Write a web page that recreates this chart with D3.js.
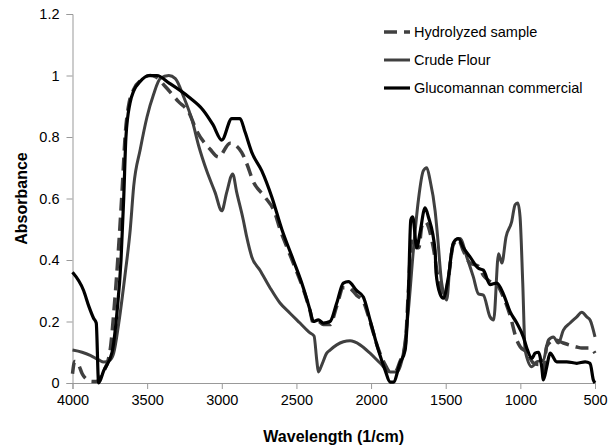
<!DOCTYPE html>
<html><head><meta charset="utf-8">
<script src="https://cdn.jsdelivr.net/npm/d3@7"></script>
<style>body{margin:0;background:#fff}svg{display:block}</style>
</head><body>
<svg id="c" width="616" height="447"></svg>
<script>
const seriesNames = ["Hydrolyzed sample", "Crude Flour", "Glucomannan commercial"];
const xTicks = [4000, 3500, 3000, 2500, 2000, 1500, 1000, 500];
const yTicks = [0, 0.2, 0.4, 0.6, 0.8, 1, 1.2];

const hydrolyzed = [
[4000,0.03],[3985,0.07],[3960,0.06],[3935,0.03],[3900,0.01],[3870,0.005],[3840,0.005],[3800,0.03],[3750,0.10],[3720,0.25],[3690,0.45],[3665,0.65],[3648,0.80],[3625,0.90],[3590,0.955],[3540,0.985],[3480,1.0],[3440,0.995],[3380,0.965],[3290,0.915],[3221,0.88],[3168,0.82],[3078,0.76],[3022,0.735],[2945,0.78],[2867,0.75],[2834,0.715],[2789,0.655],[2711,0.605],[2644,0.553],[2610,0.50],[2565,0.443],[2521,0.39],[2454,0.305],[2409,0.235],[2387,0.195],[2353,0.20],[2320,0.19],[2275,0.19],[2230,0.25],[2186,0.31],[2152,0.31],[2096,0.285],[2052,0.265],[2007,0.20],[1951,0.11],[1906,0.06],[1873,0.036],[1840,0.036],[1806,0.07],[1772,0.12],[1750,0.30],[1727,0.475],[1698,0.44],[1680,0.44],[1660,0.51],[1638,0.525],[1583,0.44],[1549,0.335],[1525,0.29],[1505,0.28],[1482,0.34],[1449,0.45],[1415,0.465],[1382,0.43],[1337,0.39],[1281,0.38],[1248,0.35],[1203,0.33],[1158,0.32],[1114,0.28],[1069,0.22],[1024,0.14],[1000,0.117],[957,0.10],[913,0.065],[880,0.06],[857,0.06],[846,0.04],[823,0.12],[768,0.14],[712,0.13],[622,0.117],[588,0.114],[533,0.114],[500,0.097]
];
const crude = [
[4000,0.107],[3936,0.10],[3881,0.09],[3824,0.075],[3791,0.068],[3747,0.075],[3724,0.097],[3690,0.195],[3646,0.36],[3613,0.50],[3590,0.64],[3546,0.76],[3501,0.865],[3456,0.94],[3412,0.99],[3355,1.00],[3311,0.99],[3255,0.93],[3199,0.855],[3154,0.77],[3101,0.69],[3045,0.62],[3000,0.56],[2967,0.62],[2927,0.68],[2900,0.62],[2856,0.53],[2833,0.475],[2799,0.41],[2744,0.367],[2677,0.31],[2610,0.26],[2543,0.227],[2476,0.195],[2409,0.163],[2382,0.153],[2364,0.075],[2353,0.036],[2330,0.059],[2297,0.097],[2275,0.107],[2230,0.124],[2141,0.137],[2074,0.124],[2007,0.097],[1940,0.065],[1873,0.036],[1828,0.036],[1784,0.097],[1750,0.237],[1717,0.43],[1683,0.595],[1650,0.69],[1627,0.70],[1605,0.66],[1571,0.56],[1555,0.48],[1527,0.325],[1493,0.27],[1471,0.39],[1437,0.465],[1404,0.47],[1359,0.41],[1315,0.345],[1281,0.29],[1248,0.286],[1203,0.215],[1179,0.205],[1146,0.42],[1124,0.39],[1096,0.475],[1058,0.525],[1035,0.58],[1017,0.585],[1002,0.54],[984,0.325],[968,0.107],[923,0.053],[890,0.069],[846,0.075],[812,0.14],[779,0.15],[745,0.13],[712,0.172],[667,0.195],[622,0.215],[589,0.23],[555,0.215],[533,0.205],[500,0.15]
];
const glucomannan = [
[4000,0.36],[3925,0.30],[3891,0.25],[3858,0.21],[3841,0.195],[3825,0.0],[3791,0.04],[3735,0.10],[3702,0.23],[3675,0.40],[3657,0.60],[3642,0.80],[3615,0.91],[3590,0.95],[3548,0.98],[3489,1.0],[3434,1.0],[3355,0.976],[3221,0.93],[3126,0.888],[3059,0.84],[3000,0.79],[2933,0.86],[2878,0.86],[2844,0.816],[2799,0.75],[2732,0.69],[2665,0.605],[2598,0.50],[2521,0.40],[2454,0.31],[2409,0.237],[2387,0.20],[2353,0.205],[2320,0.195],[2275,0.20],[2230,0.26],[2186,0.325],[2152,0.33],[2096,0.30],[2052,0.28],[2007,0.205],[1951,0.107],[1906,0.042],[1873,0.003],[1851,0.003],[1806,0.065],[1772,0.107],[1750,0.29],[1734,0.53],[1721,0.54],[1694,0.44],[1672,0.49],[1638,0.57],[1616,0.54],[1571,0.43],[1565,0.36],[1538,0.29],[1516,0.276],[1482,0.345],[1449,0.455],[1415,0.47],[1382,0.44],[1337,0.41],[1281,0.373],[1248,0.367],[1203,0.32],[1158,0.325],[1114,0.29],[1069,0.232],[1024,0.195],[980,0.15],[957,0.114],[923,0.08],[901,0.097],[879,0.10],[857,0.053],[846,0.01],[823,0.053],[801,0.097],[756,0.069],[689,0.069],[622,0.064],[566,0.069],[533,0.064],[511,0.01],[500,0.0]
];

const svg = d3.select("#c");
const m = {l:72.5, r:595, t:14, b:383};
const x = d3.scaleLinear().domain([4000,500]).range([m.l,m.r]);
const y = d3.scaleLinear().domain([0,1.2]).range([m.b,m.t]);
const font = "'Liberation Sans', Arial, sans-serif";

const xa = svg.append("g").attr("transform",`translate(0,${m.b})`)
  .call(d3.axisBottom(x).tickValues(xTicks).tickSize(6).tickPadding(6).tickFormat(d3.format("d")));
const ya = svg.append("g").attr("transform",`translate(${m.l},0)`)
  .call(d3.axisLeft(y).tickValues(yTicks).tickSize(6).tickPadding(7).tickFormat(d=>String(d)));
[xa,ya].forEach(a=>{
  a.selectAll("path,line").attr("stroke","#999").attr("stroke-width",1);
  a.selectAll("text").attr("font-family",font).attr("font-size",14.5).attr("fill","#000");
});

const line = d3.line().x(d=>x(d[0])).y(d=>y(d[1])).curve(d3.curveMonotoneX);
const styles = [
  {data:hydrolyzed, stroke:"#404040", w:3.5, dash:"13,7"},
  {data:crude, stroke:"#404040", w:3, dash:null},
  {data:glucomannan, stroke:"#000", w:3.2, dash:null}
];
const order = [1,0,2];
order.forEach(i=>{
  const s = styles[i];
  svg.append("path").datum(s.data).attr("d",line).attr("fill","none")
    .attr("stroke",s.stroke).attr("stroke-width",s.w).attr("stroke-linejoin","round")
    .attr("stroke-dasharray",s.dash);
});

const lg = svg.append("g");
seriesNames.forEach((n,i)=>{
  const yy = 32 + i*28;
  const s = styles[i];
  lg.append("line").attr("x1",384).attr("x2",410).attr("y1",yy).attr("y2",yy)
    .attr("stroke",s.stroke).attr("stroke-width",s.w).attr("stroke-dasharray",s.dash);
  lg.append("text").attr("x",414).attr("y",yy+5).text(n)
    .attr("font-family",font).attr("font-size",14.5).attr("fill","#000");
});

svg.append("text").attr("x",(m.l+m.r)/2).attr("y",442).attr("text-anchor","middle")
  .attr("font-family",font).attr("font-weight","bold").attr("font-size",16).text("Wavelength (1/cm)");
svg.append("text").attr("transform",`translate(27,${(m.t+m.b)/2}) rotate(-90)`).attr("text-anchor","middle")
  .attr("font-family",font).attr("font-weight","bold").attr("font-size",16).text("Absorbance");
</script>
</body></html>
